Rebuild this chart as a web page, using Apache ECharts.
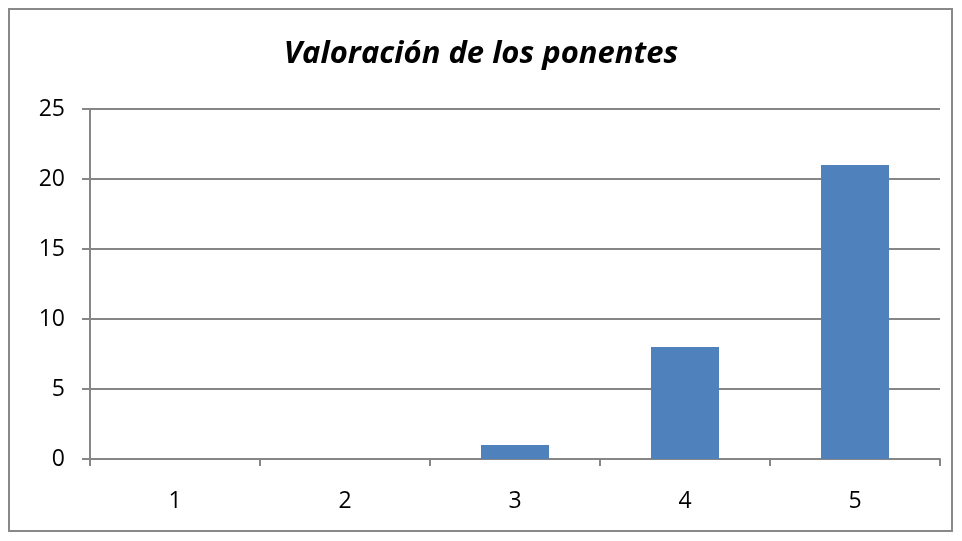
<!DOCTYPE html>
<html>
<head>
<meta charset="utf-8">
<script src="https://cdn.jsdelivr.net/npm/echarts@6/dist/echarts.min.js"></script>
<style>
  html, body { margin: 0; padding: 0; background: #fff; }
  #chart { width: 962px; height: 541px; }
</style>
</head>
<body>
<div id="chart"></div>
<script>
const categories = ["1", "2", "3", "4", "5"];
const valores = [0, 0, 1, 8, 21];
const titulo = "Valoración de los ponentes";

const axisColor = "#868686";
const barColor = "#4f81bd";

const el = echarts.init(document.getElementById("chart"));

const options = {
  animation: false,
  textStyle: { fontFamily: "Open Sans, Noto Sans, sans-serif" },
  title: {
    text: titulo,
    left: "center",
    top: 34,
    textStyle: {
      fontSize: 31,
      fontStyle: "italic",
      fontWeight: "bold",
      color: "#000",
      fontFamily: "Open Sans, sans-serif",
    },
  },
  graphic: [
    {
      type: "rect",
      shape: { x: 9, y: 9, width: 943, height: 522 },
      style: { fill: "none", stroke: "#898989", lineWidth: 2 },
      silent: true,
    },
  ],
  grid: { left: 90, right: 22, top: 109, bottom: 82 },
  xAxis: {
    type: "category",
    data: categories,
    axisLine: { lineStyle: { color: axisColor, width: 2 } },
    axisTick: { show: true, length: 7, alignWithLabel: false, lineStyle: { color: axisColor, width: 2 } },
    axisLabel: { color: "#000", fontSize: 23, margin: 31 },
    splitLine: { show: false },
  },
  yAxis: {
    type: "value",
    min: 0,
    max: 25,
    interval: 5,
    axisLine: { show: true, lineStyle: { color: axisColor, width: 2 } },
    axisTick: { show: true, length: 8, lineStyle: { color: axisColor, width: 2 } },
    axisLabel: { color: "#000", fontSize: 23, margin: 25 },
    splitLine: { show: true, lineStyle: { color: axisColor, width: 2 } },
  },
  series: [
    {
      type: "bar",
      data: valores,
      barWidth: "40%",
      itemStyle: { color: barColor },
    },
  ],
};

el.setOption(options);
</script>
</body>
</html>
